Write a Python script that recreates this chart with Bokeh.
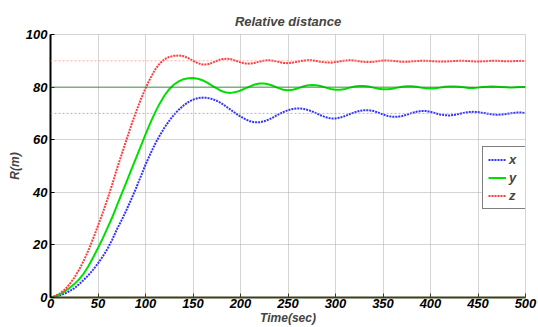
from bokeh.plotting import figure
from bokeh.models import Span, Legend, LegendItem, FixedTicker, Range1d
from bokeh.embed import file_html
from bokeh.resources import INLINE

t = list(range(0, 505, 5))

x_vals = [0, 0.3, 0.8, 1.5, 2.4, 3.5, 5.0, 6.7, 8.5, 10.6,
          13.0, 15.6, 18.5, 22.0, 26.0, 29.5, 33.3, 37.3, 41.5, 46.0,
          50.5, 54.5, 58.3, 61.6, 64.6, 67.2, 69.5, 71.4, 73.0, 74.3,
          75.2, 75.8, 76.0, 75.9, 75.5, 74.8, 73.8, 72.6, 71.3, 70.0,
          68.8, 67.8, 67.0, 66.6, 66.6, 67.0, 67.7, 68.6, 69.6, 70.5,
          71.2, 71.7, 71.9, 71.8, 71.4, 70.8, 70.0, 69.2, 68.5, 68.1,
          68.1, 68.4, 69.0, 69.7, 70.4, 70.9, 71.2, 71.2, 70.9, 70.3,
          69.6, 69.0, 68.7, 68.7, 69.0, 69.5, 70.1, 70.6, 70.9, 70.9,
          70.6, 70.1, 69.6, 69.3, 69.2, 69.4, 69.8, 70.2, 70.5, 70.6,
          70.5, 70.2, 69.9, 69.6, 69.5, 69.6, 69.8, 70.1, 70.3, 70.3,
          70.1]

y_vals = [0, 0.4, 1.2, 2.3, 3.6, 5.1, 6.9, 9.1, 12.0, 15.3,
          18.8, 22.5, 26.5, 30.5, 35.0, 39.5, 44.0, 48.5, 53.0, 57.5,
          62.0, 66.3, 70.3, 73.8, 76.8, 79.2, 81.0, 82.2, 83.0, 83.4,
          83.5, 83.2, 82.6, 81.7, 80.6, 79.5, 78.5, 77.9, 77.8, 78.1,
          78.7, 79.5, 80.3, 81.0, 81.4, 81.4, 81.0, 80.4, 79.6, 79.0,
          78.8, 79.0, 79.5, 80.1, 80.6, 80.8, 80.7, 80.3, 79.8, 79.3,
          79.0, 79.0, 79.3, 79.8, 80.2, 80.4, 80.4, 80.2, 79.8, 79.4,
          79.2, 79.2, 79.4, 79.8, 80.1, 80.3, 80.3, 80.1, 79.8, 79.6,
          79.5, 79.6, 79.8, 80.1, 80.2, 80.2, 80.1, 79.9, 79.7, 79.7,
          79.8, 80.0, 80.1, 80.2, 80.1, 80.0, 79.9, 79.8, 79.9, 80.0,
          80.0]

z_vals = [0, 0.6, 1.6, 3.0, 5.0, 7.5, 10.5, 14.0, 18.0, 22.5,
          27.3, 32.2, 37.5, 43.0, 49.0, 54.5, 60.0, 65.5, 70.5, 75.3,
          79.5, 83.3, 86.6, 89.0, 90.6, 91.5, 91.9, 92.0, 91.8, 91.0,
          90.0, 89.1, 88.6, 88.6, 89.2, 90.0, 90.6, 90.8, 90.6, 90.0,
          89.4, 89.0, 88.9, 89.2, 89.7, 90.1, 90.2, 90.0, 89.6, 89.2,
          89.1, 89.3, 89.7, 90.0, 90.2, 90.2, 89.9, 89.6, 89.4, 89.3,
          89.5, 89.8, 90.1, 90.2, 90.1, 89.8, 89.6, 89.5, 89.6, 89.9,
          90.1, 90.1, 90.0, 89.8, 89.6, 89.6, 89.8, 89.9, 90.0, 90.0,
          89.9, 89.8, 89.7, 89.7, 89.8, 89.9, 90.0, 90.0, 89.9, 89.8,
          89.7, 89.8, 89.9, 90.0, 90.0, 89.9, 89.8, 89.8, 89.9, 90.0,
          89.9]

targets = [70, 80, 90]
x_ticks = [0, 50, 100, 150, 200, 250, 300, 350, 400, 450, 500]
y_ticks = [0, 20, 40, 60, 80, 100]

FONT = "Liberation Sans"

p = figure(width=538, height=327, output_backend="svg", toolbar_location=None,
           x_range=Range1d(0, 500), y_range=Range1d(0, 100),
           min_border_left=50, min_border_right=13, min_border_top=34,
           min_border_bottom=29)

p.title.text = "Relative distance"
p.title.align = "center"
p.title.text_font = FONT
p.title.text_font_style = "bold italic"
p.title.text_font_size = "13px"
p.title.offset = -8
p.title.standoff = 11

# target reference lines
span_colors = ["#9999ff", "#2e7d2e", "#ff9999"]
span_dash = ["2 2", "solid", "2 2"]
for loc, c, d in zip(targets, span_colors, span_dash):
    p.add_layout(Span(location=loc, dimension="width", line_color=c,
                      line_dash=d, line_width=1, line_alpha=0.8))

rx = p.line(t, x_vals, line_color="#3333ff", line_width=2, line_dash="2 1")
ry = p.line(t, y_vals, line_color="#00e000", line_width=2)
rz = p.line(t, z_vals, line_color="#ff3b3b", line_width=2, line_dash="2 1")

# axes
for ax in (p.xaxis[0], p.yaxis[0]):
    ax.major_label_text_font = FONT
    ax.major_label_text_font_style = "bold italic"
    ax.major_label_text_font_size = "13px"
    ax.major_label_text_color = "black"
    ax.axis_label_text_font = FONT
    ax.axis_label_text_font_style = "bold italic"
    ax.axis_label_text_font_size = "12px"
    ax.major_tick_in = 4
    ax.major_tick_out = 0
    ax.minor_tick_in = 0
    ax.minor_tick_out = 0
    ax.major_label_standoff = 1
    ax.axis_label_standoff = 0

p.xaxis[0].ticker = FixedTicker(ticks=x_ticks)
p.yaxis[0].ticker = FixedTicker(ticks=y_ticks)
p.xaxis.axis_label = "Time(sec)"
p.yaxis.axis_label = "R(m)"
p.yaxis.major_label_standoff = 3
p.yaxis.axis_label_standoff = 1
p.xaxis.axis_line_color = "#3d3d1a"
p.xaxis.axis_line_width = 2
p.xaxis.major_tick_line_color = "#3d3d1a"
p.yaxis.axis_line_color = "black"
p.yaxis.axis_line_width = 2

p.xgrid.ticker = FixedTicker(ticks=x_ticks)
p.ygrid.ticker = FixedTicker(ticks=y_ticks)
for g in (p.xgrid[0], p.ygrid[0]):
    g.grid_line_color = "#aaaaaa"
    g.grid_line_dash = "1 1"
    g.grid_line_width = 1

p.outline_line_color = "#aaaaaa"
p.outline_line_dash = "1 1"
p.background_fill_color = "white"
p.border_fill_color = "white"

legend = Legend(items=[LegendItem(label="x", renderers=[rx]),
                       LegendItem(label="y", renderers=[ry]),
                       LegendItem(label="z", renderers=[rz])],
                location=(432, 88))
legend.label_text_font = FONT
legend.label_text_font_style = "bold italic"
legend.label_text_font_size = "13px"
legend.label_height = 13
legend.glyph_height = 13
legend.glyph_width = 18
legend.label_standoff = 3
legend.spacing = 3
legend.padding = 5
legend.margin = 0
legend.border_line_color = "black"
legend.border_line_width = 1.5
legend.background_fill_alpha = 1
p.add_layout(legend)

open("out.html", "w").write(file_html(p, INLINE))
